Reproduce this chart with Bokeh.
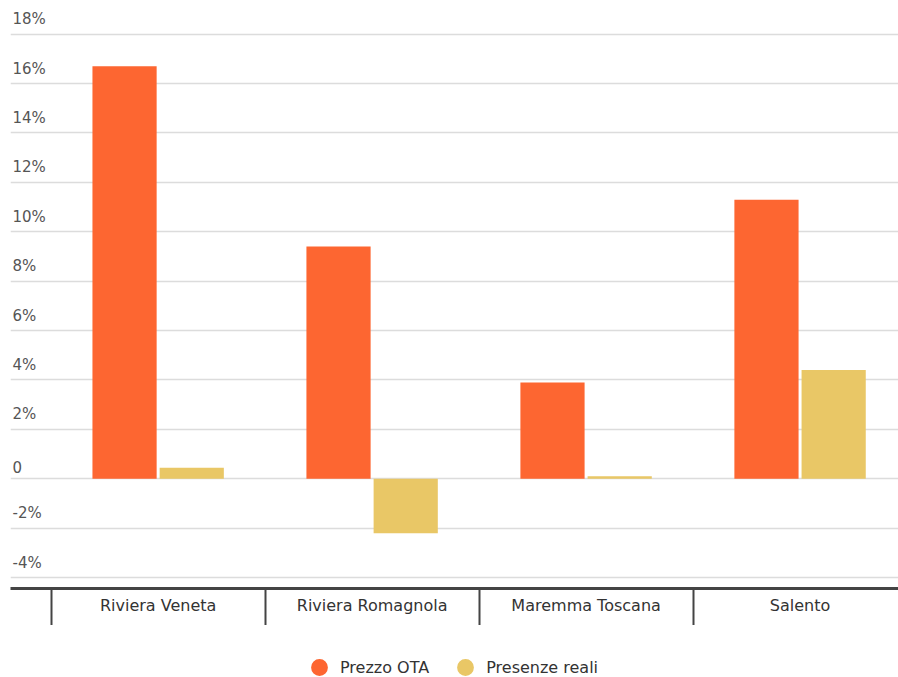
from bokeh.plotting import figure
from bokeh.layouts import column
from bokeh.models import (ColumnDataSource, FixedTicker, Legend, LegendItem,
                          Range1d)
from bokeh.transform import dodge
from bokeh.core.properties import value
from bokeh.embed import file_html
from bokeh.resources import INLINE

# Variazione % estate: prezzo medio OTA vs presenze reali
categories = ["Riviera Veneta", "Riviera Romagnola", "Maremma Toscana", "Salento"]
prezzo_ota = [16.7, 9.4, 3.9, 11.3]
presenze_reali = [0.45, -2.2, 0.1, 4.4]
y_ticks = [-4, -2, 0, 2, 4, 6, 8, 10, 12, 14, 16, 18]
y_tick_labels = ["0" if t == 0 else f"{t}%" for t in y_ticks]
series_names = ["Prezzo OTA", "Presenze reali"]

ORANGE = "#FD6631"
YELLOW = "#E9C766"
FONT = "DejaVu Sans"

x_start, x_end = -0.19, 3.96
y_start, y_end = -4.44, 19.36

p = figure(width=898, height=625,
           x_range=Range1d(x_start, x_end), y_range=Range1d(y_start, y_end),
           y_axis_location=None, output_backend="svg", toolbar_location=None,
           min_border_left=10, min_border_right=0, min_border_top=0,
           min_border_bottom=37)
p.outline_line_color = None
p.xgrid.visible = False
p.ygrid.ticker = FixedTicker(ticks=y_ticks)
p.ygrid.grid_line_color = "#dcdcdc"
p.ygrid.grid_line_width = 1.5

src = ColumnDataSource(dict(
    x=[i + 0.5 for i in range(len(categories))],
    prezzo=prezzo_ota,
    presenze=presenze_reali,
))
p.vbar(x=dodge("x", -0.157, range=p.x_range), top="prezzo", bottom=0,
       width=0.3, source=src, fill_color=ORANGE, line_color=None)
p.vbar(x=dodge("x", 0.157, range=p.x_range), top="presenze", bottom=0,
       width=0.3, source=src, fill_color=YELLOW, line_color=None)

# y tick labels sit above their gridlines, inside the plot area
lab_src = ColumnDataSource(dict(x=[x_start] * len(y_ticks), y=y_ticks,
                                text=y_tick_labels))
p.text(x="x", y="y", text="text", source=lab_src, x_offset=2, y_offset=-6,
       text_baseline="bottom", text_align="left", text_color="#555555",
       text_font=value(FONT), text_font_size="15px")

# category axis: labels centred, separators as minor ticks between them
ax = p.xaxis[0]
ax.ticker = FixedTicker(ticks=[i + 0.5 for i in range(len(categories))],
                        minor_ticks=list(range(len(categories) + 1)))
ax.major_label_overrides = {i + 0.5: c for i, c in enumerate(categories)}
ax.major_tick_out = 0
ax.major_tick_in = 0
ax.minor_tick_in = 0
ax.minor_tick_out = 37
ax.minor_tick_line_color = "#444444"
ax.minor_tick_line_width = 2
ax.axis_line_color = "#444444"
ax.axis_line_width = 3
ax.major_label_standoff = -30
ax.major_label_text_font = FONT
ax.major_label_text_font_size = "16px"
ax.major_label_text_color = "#333333"

# separate strip underneath holding the legend; the marker renderers hold a
# single point outside the visible range so only their legend swatch shows
leg_fig = figure(width=898, height=52, x_axis_location=None,
                 y_axis_location=None, output_backend="svg",
                 toolbar_location=None, min_border=0,
                 x_range=Range1d(0, 1), y_range=Range1d(0, 1))
leg_fig.outline_line_color = None
leg_fig.grid.visible = False
r_ota = leg_fig.scatter(x=[-1], y=[-1], marker="circle", size=17,
                        fill_color=ORANGE, line_color=None)
r_pres = leg_fig.scatter(x=[-1], y=[-1], marker="circle", size=17,
                         fill_color=YELLOW, line_color=None)
legend = Legend(items=[LegendItem(label=series_names[0], renderers=[r_ota]),
                       LegendItem(label=series_names[1], renderers=[r_pres])],
                orientation="horizontal", location=(288, -11),
                glyph_width=42, glyph_height=42, label_standoff=-4, spacing=15,
                padding=0, margin=0, border_line_color=None,
                background_fill_alpha=0,
                label_text_font=FONT, label_text_font_size="16px",
                label_text_color="#333333")
leg_fig.add_layout(legend, "center")

layout = column(p, leg_fig, spacing=0)
open("out.html", "w").write(file_html(layout, INLINE))
